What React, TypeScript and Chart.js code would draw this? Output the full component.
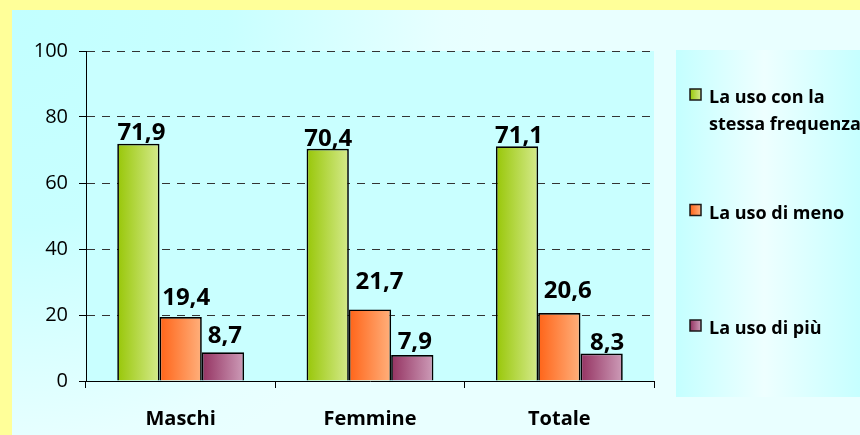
import React, { useEffect, useRef } from "react";
import { Chart, registerables } from "chart.js";

Chart.register(...registerables);

// ---- data ----
const categories = ["Maschi", "Femmine", "Totale"];
const seriesNames = ["La uso con la stessa frequenza", "La uso di meno", "La uso di più"];
const sameFrequency = [71.9, 70.4, 71.1];
const useLess = [19.4, 21.7, 20.6];
const useMore = [8.7, 7.9, 8.3];
const yMin = 0;
const yMax = 100;
const yStep = 20;

// ---- styles ----
const barGradients: [string, string][] = [
  ["#98C708", "#D5EA8C"],
  ["#FF6418", "#FFB07C"],
  ["#943261", "#CD9CB8"],
];
// per-label nudges [dx, extra gap] in px (label placement style)
const labelNudges: [number, number][][] = [
  [[3, 0.5], [0.5, 0], [2, 0]],
  [[5.5, 9], [9.5, 17], [8.5, 12]],
  [[2, 6], [2.5, 3], [5.5, 1]],
];
const FONT = "'Open Sans', 'DejaVu Sans', sans-serif";

const backgroundPlugin = {
  id: "bgPanels",
  beforeDraw(chart: any) {
    const { ctx, width, height, chartArea } = chart;
    ctx.save();
    ctx.fillStyle = "#FFFF99";
    ctx.fillRect(0, 0, width, height);
    const rg = ctx.createRadialGradient(12, 10, 0, 12, 10, 480);
    rg.addColorStop(0, "#C2FFFF");
    rg.addColorStop(0.45, "#C8FFFF");
    rg.addColorStop(0.9, "#E7FFFF");
    rg.addColorStop(1, "#E9FFFF");
    ctx.fillStyle = rg;
    ctx.fillRect(12, 10, width - 12, height - 10);
    ctx.fillStyle = "#C9FFFF";
    ctx.fillRect(chartArea.left, chartArea.top, chartArea.right - chartArea.left, chartArea.bottom - chartArea.top);
    ctx.restore();
  },
};

const barGradientPlugin = {
  id: "barGradient",
  beforeDatasetsDraw(chart: any) {
    const ctx = chart.ctx;
    chart.data.datasets.forEach((_ds: any, di: number) => {
      const meta = chart.getDatasetMeta(di);
      const [c0, c1] = barGradients[di];
      meta.data.forEach((el: any) => {
        const x = el.x;
        const w = el.width;
        const g = ctx.createLinearGradient(x - w / 2, 0, x + w / 2, 0);
        g.addColorStop(0, c0);
        g.addColorStop(1, c1);
        el.options = { ...el.options, backgroundColor: g };
      });
    });
  },
};

const dataLabelPlugin = {
  id: "dataLabels",
  afterDatasetsDraw(chart: any) {
    const ctx = chart.ctx;
    ctx.save();
    ctx.font = `bold 24px ${FONT}`;
    ctx.fillStyle = "#000";
    ctx.textAlign = "center";
    ctx.textBaseline = "alphabetic";
    chart.data.datasets.forEach((ds: any, di: number) => {
      const meta = chart.getDatasetMeta(di);
      meta.data.forEach((el: any, i: number) => {
        const v = ds.data[i] as number;
        const [dx, dy] = labelNudges[di][i];
        ctx.fillText(v.toFixed(1).replace(".", ","), el.x + dx, el.y - 3 - dy);
      });
    });
    ctx.restore();
  },
};

const sideLegendPlugin = {
  id: "sideLegend",
  afterDraw(chart: any) {
    const { ctx, width, chartArea } = chart;
    const left = chartArea.right + 22;
    const top = chartArea.top - 1;
    const bottom = chartArea.bottom + 16;
    ctx.save();
    const lg = ctx.createLinearGradient(left, 0, width, 0);
    lg.addColorStop(0, "#C4FFFF");
    lg.addColorStop(0.48, "#EEFFFF");
    lg.addColorStop(1, "#C6FFFF");
    ctx.fillStyle = lg;
    ctx.fillRect(left, top, width - left, bottom - top);

    ctx.font = `bold 18px ${FONT}`;
    ctx.textAlign = "left";
    ctx.textBaseline = "alphabetic";
    const boxX = left + 14;
    const textX = left + 33;
    const maxW = width - textX - 8;
    chart.data.datasets.forEach((ds: any, di: number) => {
      const sy = top + 39 + di * 115.5;
      const [c0, c1] = barGradients[di];
      const g = ctx.createLinearGradient(boxX, 0, boxX + 11, 0);
      g.addColorStop(0, c0);
      g.addColorStop(1, c1);
      ctx.fillStyle = g;
      ctx.fillRect(boxX, sy, 11, 11);
      ctx.lineWidth = 1.5;
      ctx.strokeStyle = "#1A1A1A";
      ctx.strokeRect(boxX, sy, 11, 11);
      const words = String(ds.label).split(" ");
      const lines: string[] = [];
      let cur = "";
      words.forEach((w) => {
        const test = cur ? cur + " " + w : w;
        if (ctx.measureText(test).width > maxW && cur && lines.length === 0) {
          lines.push(cur);
          cur = w;
        } else {
          cur = test;
        }
      });
      if (cur) lines.push(cur);
      ctx.fillStyle = "#000";
      lines.forEach((ln, li) => {
        ctx.fillText(ln, textX, sy + 14 + li * 27);
      });
    });
    ctx.restore();
  },
};

export default function App() {
  const canvasRef = useRef<HTMLCanvasElement | null>(null);

  useEffect(() => {
    if (!canvasRef.current) return;
    const chart = new Chart(canvasRef.current, {
      type: "bar",
      data: {
        labels: categories,
        datasets: [
          { label: seriesNames[0], data: sameFrequency },
          { label: seriesNames[1], data: useLess },
          { label: seriesNames[2], data: useMore },
        ].map((d) => ({
          ...d,
          backgroundColor: "#cccccc",
          borderColor: "#000000",
          borderWidth: 1.7,
          categoryPercentage: 0.67,
          barPercentage: 1,
        })),
      },
      options: {
        responsive: false,
        maintainAspectRatio: false,
        animation: false,
        devicePixelRatio: 1,
        layout: { padding: { left: 0, top: 51, right: 206, bottom: 0 } },
        plugins: {
          legend: { display: false },
          tooltip: { enabled: false },
        },
        scales: {
          x: {
            offset: true,
            afterFit: (s: any) => {
              s.height = 54;
            },
            ticks: {
              color: "#000",
              padding: 19,
              font: { family: FONT, size: 20, weight: "bold" },
            },
            grid: {
              offset: true,
              drawOnChartArea: false,
              drawTicks: true,
              tickLength: 7,
              color: "#000",
              tickColor: "#000",
            },
            border: { display: true, color: "#000", width: 1 },
          },
          y: {
            min: yMin,
            max: yMax,
            afterFit: (s: any) => {
              s.width = 86;
            },
            ticks: {
              stepSize: yStep,
              color: "#000",
              padding: 11,
              font: { family: FONT, size: 20 },
            },
            grid: {
              drawOnChartArea: true,
              drawTicks: true,
              tickLength: 7,
              color: (c: any) => (c.tick && c.tick.value === 0 ? "rgba(0,0,0,0)" : "#333333"),
              tickColor: "#000",
              tickBorderDash: [],
            } as any,
            border: { display: true, color: "#000", width: 1, dash: [8, 7] },
          },
        },
      },
      plugins: [backgroundPlugin, barGradientPlugin, dataLabelPlugin, sideLegendPlugin],
    } as any);
    return () => chart.destroy();
  }, []);

  return (
    <div style={{ position: "fixed", left: 0, top: 0, width: 860, height: 435 }}>
      <canvas ref={canvasRef} width={860} height={435} style={{ display: "block" }} />
    </div>
  );
}
